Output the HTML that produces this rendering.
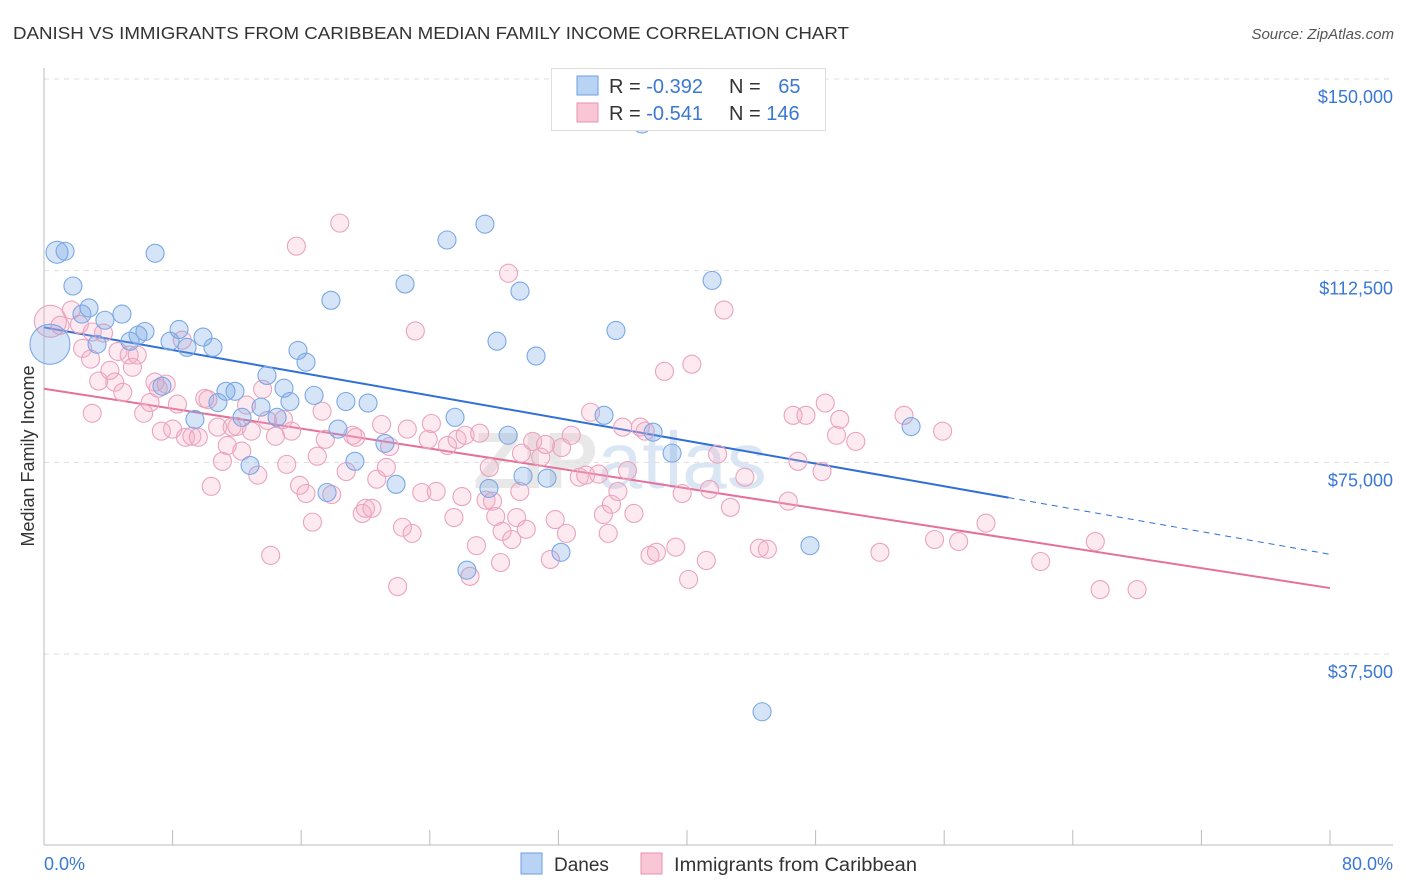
<!DOCTYPE html>
<html><head><meta charset="utf-8"><style>
body{margin:0;background:#fff;font-family:"Liberation Sans",sans-serif;}
svg{display:block}
</style></head><body>
<svg id="chart" width="1406" height="892">
<text x="13" y="39" font-size="17.5" fill="#333" textLength="836" lengthAdjust="spacingAndGlyphs">DANISH VS IMMIGRANTS FROM CARIBBEAN MEDIAN FAMILY INCOME CORRELATION CHART</text>
<text x="1394" y="39" font-size="15" font-style="italic" fill="#555" text-anchor="end">Source: ZipAtlas.com</text>
<text x="620" y="488" font-size="80" font-weight="bold" fill="#e8e8e8" text-anchor="middle">ZIP<tspan fill="#dbe6f4" font-weight="normal">atlas</tspan></text>
<g id="grid"></g>
<g id="axes"></g>
<g id="lines"></g>
<g id="pts"></g>
<text transform="translate(34,456) rotate(-90)" font-size="18" fill="#333" text-anchor="middle">Median Family Income</text>
<g>
<rect x="551.5" y="68.5" width="274" height="62" fill="#fff" stroke="#ddd"/>
<rect x="577" y="76" width="21" height="19" fill="#b9d3f5" stroke="#6a9fe0"/>
<rect x="577" y="103" width="21" height="19" fill="#f9c6d6" stroke="#e890b0"/>
<text x="609" y="93" font-size="20" fill="#333">R = <tspan fill="#3a78d4">-0.392</tspan></text>
<text x="729" y="93" font-size="20" fill="#333">N = <tspan fill="#3a78d4" dx="12">65</tspan></text>
<text x="609" y="120" font-size="20" fill="#333">R = <tspan fill="#3a78d4">-0.541</tspan></text>
<text x="729" y="120" font-size="20" fill="#333">N = <tspan fill="#3a78d4">146</tspan></text>
</g>
<g>
<rect x="521" y="853" width="21" height="21" fill="#b9d3f5" stroke="#6a9fe0"/>
<text x="554" y="871" font-size="19" fill="#333">Danes</text>
<rect x="641" y="853" width="21" height="21" fill="#f9c6d6" stroke="#e890b0"/>
<text x="674" y="871" font-size="19" fill="#333" textLength="243" lengthAdjust="spacingAndGlyphs">Immigrants from Caribbean</text>
</g>
<text x="44" y="870" font-size="18" fill="#3a78d4">0.0%</text>
<text x="1393" y="870" font-size="18" fill="#3a78d4" text-anchor="end">80.0%</text>
</svg>
<script>
const yTicks=[37500,75000,112500,150000];
const yTickLabels=["$37,500","$75,000","$112,500","$150,000"];
const xTicks=[0,8,16,24,32,40,48,56,64,72,80];
const danesX=[0.81,1.31,0.37,1.80,2.80,2.36,3.79,4.85,3.30,5.35,5.85,6.28,6.91,7.34,7.84,8.40,8.90,9.39,9.89,10.51,11.32,11.88,10.82,12.32,12.82,13.50,13.87,14.93,15.30,14.50,15.80,16.30,16.80,17.61,17.85,18.29,18.78,19.34,20.16,21.21,21.90,22.46,25.07,25.57,27.43,27.68,28.18,28.87,29.61,29.80,30.61,31.29,32.16,34.84,35.58,37.20,37.89,39.07,41.56,44.67,47.65,53.94,26.31];
const danesY=[116100,116300,98100,109500,105200,104000,102800,104000,98100,98700,99900,100600,115900,89900,98700,101000,97500,83400,99500,97500,88900,88900,86700,83800,74400,85800,92000,89500,86900,83800,96900,94600,88100,69100,106700,81500,86900,75200,86600,78700,70700,109900,118500,83800,121600,69900,98700,80300,108500,72300,95800,71900,57400,84200,100800,141200,80900,76800,110600,26200,58700,82000,53900];
const danesR=[11,9,20,9,9,9,9,9,9,9,9,9,9,9,9,9,9,9,9,9,9,9,9,9,9,9,9,9,9,9,9,9,9,9,9,9,9,9,9,9,9,9,9,9,9,9,9,9,9,9,9,9,9,9,9,9,9,9,9,9,9,9,9];
const carX=[0.4,1.0,1.7,2.2,3.0,2.4,2.9,3.0,3.4,3.7,4.1,4.4,4.9,4.6,5.3,5.5,5.8,6.2,6.6,6.9,7.1,7.3,7.6,8.0,8.3,8.6,8.8,9.2,9.6,10.0,10.2,10.4,10.8,11.1,11.4,11.7,12.0,12.3,12.6,12.9,13.3,13.6,13.9,14.1,14.4,14.9,15.1,15.4,15.7,15.9,16.3,16.7,17.0,17.3,17.5,17.9,18.4,18.8,19.2,19.4,19.8,20.0,20.4,20.7,21.0,21.3,21.5,22.0,22.3,22.6,22.9,23.1,23.5,23.9,24.1,24.4,25.1,25.5,25.7,26.0,26.2,26.5,26.9,27.1,27.5,27.7,27.9,28.1,28.4,28.5,28.9,29.1,29.4,29.6,29.7,30.0,30.4,30.9,31.2,31.5,31.8,32.2,32.5,32.8,33.3,33.7,34.0,34.5,34.8,35.1,35.3,35.7,36.0,36.3,36.7,37.1,37.4,37.7,38.1,38.6,39.3,39.7,40.1,40.3,41.2,41.4,41.9,42.3,42.7,43.6,44.5,45.0,46.3,46.6,46.9,47.4,48.4,48.6,49.3,49.5,50.5,52.0,53.5,55.4,55.9,56.9,58.6,62.0,65.4,65.7,68.0];
const carY=[102600,101800,104800,102000,100500,97300,95200,84600,90900,100300,93000,90700,88700,96700,96000,93600,96000,84600,86700,90700,89500,81100,90300,81500,86400,98900,79900,80100,79900,87500,87300,70300,81900,75200,78300,81900,82000,77200,86200,81100,72500,89300,83200,56800,80100,83400,74600,81100,117300,70500,68900,63300,76200,85000,79500,68700,121800,73200,80300,79900,65000,66000,66000,71700,82400,74000,78100,50700,62300,81500,61100,100700,69100,79500,82600,69300,78300,64200,79500,68300,80300,52700,58700,80700,67600,74000,67400,64400,55400,61500,112000,59900,64200,69300,76800,61900,79100,76000,78500,56000,63800,77900,61100,80300,72100,72500,84800,72700,64800,61100,66800,69300,81900,73400,65000,81900,81100,56800,57400,92800,58400,68900,52100,94200,55800,69700,76600,104800,66200,72100,58200,58000,67400,84200,75200,84200,73200,86600,80300,83400,79100,57400,84200,59900,81100,59500,63100,55600,59500,50100,50100];
const trendIntercept=[101400,89400];
const trendSlope=[-555,-487.5];
const X0=44,X1=1330,YT=79,YB=654;
const sx=v=>X0+(v/80)*(X1-X0);
const sy=v=>YB-(v-37500)/(112500)*(YB-YT);
const NS="http://www.w3.org/2000/svg";
function mk(tag,attrs,parent){const e=document.createElementNS(NS,tag);for(const k in attrs)e.setAttribute(k,attrs[k]);parent.appendChild(e);return e;}
const grid=document.getElementById('grid'),axes=document.getElementById('axes'),lines=document.getElementById('lines'),pts=document.getElementById('pts');
yTicks.forEach((t,i)=>{
 const l=mk('line',{x1:X0,x2:1393,y1:sy(t),y2:sy(t),stroke:'#ddd','stroke-dasharray':'5,5'},grid);
 
 
 const tx=mk('text',{x:1393,y:sy(t)+24,'font-size':18,fill:'#3a78d4','text-anchor':'end'},grid);
 tx.textContent=yTickLabels[i];
 
 
});
const ya=mk('line',{x1:X0,x2:X0,y1:68,y2:845,stroke:'#bbb'},axes);


const xa=mk('line',{x1:X0,x2:1393,y1:845,y2:845,stroke:'#bbb'},axes);


xTicks.forEach(t=>{
 const l=mk('line',{x1:sx(t),x2:sx(t),y1:830,y2:845,stroke:'#bbb'},axes);
 
 
});
function drawPts(xs,ys,rs,fill,stroke,name){
 xs.forEach((x,i)=>{
  const c=mk('circle',{cx:sx(x),cy:sy(ys[i]),r:rs?rs[i]:9,fill:fill,stroke:stroke,'stroke-width':1.1},pts);
  
  
 });
}
const carR=carX.map((x,i)=>i===0?16:9);
drawPts(carX,carY,carR,'rgba(244,170,195,0.25)','#eba3bd','caribbean-point');
drawPts(danesX,danesY,danesR,'rgba(120,165,230,0.3)','#7aa8e6','danes-point');
const tl=(i,a)=>trendIntercept[i]+trendSlope[i]*a;
const b1=mk('line',{x1:sx(0),y1:sy(tl(0,0)),x2:sx(60),y2:sy(tl(0,60)),stroke:'#2f6fd6','stroke-width':2},lines);


const b2=mk('line',{x1:sx(60),y1:sy(tl(0,60)),x2:sx(80),y2:sy(tl(0,80)),stroke:'#2f6fd6','stroke-width':1,'stroke-dasharray':'6,5'},lines);


const p1=mk('line',{x1:sx(0),y1:sy(tl(1,0)),x2:sx(80),y2:sy(tl(1,80)),stroke:'#e5709a','stroke-width':2},lines);


</script>
</body></html>
